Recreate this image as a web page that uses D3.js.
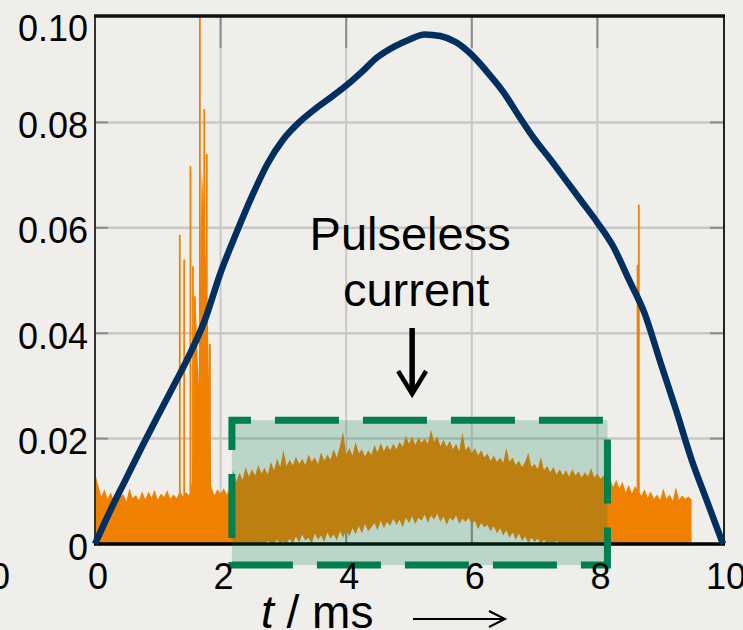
<!DOCTYPE html>
<html>
<head>
<meta charset="utf-8">
<script src="https://cdn.jsdelivr.net/npm/d3@7"></script>
<style>
html, body { margin: 0; padding: 0; background: #efeeeb; overflow: hidden; }
svg { display: block; }
text { font-family: "Liberation Sans", Arial, sans-serif; fill: #000; }
</style>
</head>
<body>
<div id="chart"></div>
<script>
var xTicks = [0, 2, 4, 6, 8, 10];
var xTickLabels = ["0", "2", "4", "6", "8", "10"];
var yTicks = [0, 0.02, 0.04, 0.06, 0.08, 0.10];
var yTickLabels = ["0", "0.02", "0.04", "0.06", "0.08", "0.10"];

// blue trace (t in ms)
var blueT = [0, 0.25, 0.5, 0.75, 1.0, 1.25, 1.5, 1.75, 2.0, 2.25, 2.5, 2.75, 3.0, 3.25, 3.5, 3.75, 4.0, 4.25, 4.5, 4.75,
	5.0, 5.25, 5.5, 5.75, 6.0, 6.25, 6.5, 6.75, 7.0, 7.25, 7.5, 7.75, 8.0, 8.25, 8.5, 8.75, 9.0, 9.25, 9.5, 9.75, 10.0];
var blueV = [0, 0.0065, 0.0125, 0.0185, 0.0243, 0.0300, 0.0358, 0.0425, 0.0515, 0.0590, 0.0660, 0.0722, 0.0768, 0.0800,
	0.0825, 0.0847, 0.0870, 0.0896, 0.0924, 0.0943, 0.0957, 0.0967, 0.0964, 0.0952, 0.0928, 0.0895, 0.0858, 0.0812,
	0.0768, 0.0730, 0.0690, 0.0650, 0.0610, 0.0565, 0.0502, 0.0438, 0.0346, 0.0255, 0.0160, 0.0080, 0];

// orange signal, upper edge every 0.05 ms from 0 ms (units of 0.001)
var noiseStep = 0.05;
var noiseUnit = 0.001;
var noiseTop = [
	13.5, 11.2, 9.0, 10.4, 8.6, 9.8, 8.2, 10.1, 8.9, 9.5,
	8.1, 10.6, 8.7, 9.3, 8.3, 10.0, 8.5, 9.9, 8.8, 10.3,
	8.4, 9.6, 8.9, 10.2, 8.6, 9.4, 8.7, 10.0, 9.0, 9.8,
	9.2, 12.0, 47.0, 30.0, 71.0, 60.0, 40.0, 11.0, 9.2, 10.4,
	9.6, 10.6, 9.4, 10.8, 14.0, 11.8, 13.5, 12.2, 14.6, 12.8,
	14.2, 13.0, 15.0, 13.4, 14.4, 13.2, 15.6, 14.0, 16.2, 14.6,
	17.8, 14.8, 16.0, 14.9, 16.6, 15.2, 16.2, 15.0, 17.0, 15.6,
	16.4, 15.2, 17.4, 15.8, 17.0, 16.0, 18.0, 16.4, 18.6, 21.3,
	17.0, 18.2, 16.8, 19.4, 17.2, 18.0, 16.6, 17.8, 16.9, 18.8,
	17.4, 19.2, 17.6, 18.8, 17.8, 19.0, 18.0, 19.4, 18.4, 20.6,
	19.0, 20.4, 18.8, 20.2, 19.2, 20.0, 19.0, 21.7, 19.4, 20.4,
	18.6, 19.8, 18.4, 19.6, 18.0, 19.0, 17.6, 21.2, 17.8, 18.6,
	17.2, 18.2, 16.8, 17.8, 16.4, 17.2, 15.8, 16.8, 15.6, 16.4,
	15.4, 18.2, 15.6, 16.4, 15.0, 15.8, 14.6, 15.6, 17.3, 14.6,
	15.2, 14.2, 16.5, 14.0, 14.8, 13.6, 14.6, 13.2, 14.2, 13.0,
	14.0, 12.8, 14.2, 13.0, 13.8, 12.6, 13.6, 12.8, 14.4, 12.6,
	13.4, 12.4, 13.0, 11.2, 12.6, 10.8, 12.2, 10.6, 11.8, 9.8,
	11.2, 9.6, 11.0, 10.0, 9.2, 10.4, 8.8, 10.0, 8.6, 9.4,
	8.4, 10.6, 8.6, 9.4, 8.2, 10.8, 8.4, 9.2, 8.6, 9.0,
	8.4
];
// lower edge of the orange inside the pulseless window, from 2.20 ms
var noiseLowStart = 2.20;
var noiseLow = [
	0, 0, 0, 0, 0, 0, 0, 0, 0.4, 0, 0, 0.6, 0, 0, 0.8, 0, 0.5,
	0, 1.0, 0, 1.4, 0.3, 1.8, 0.6, 1.2, 0, 2.0, 0.8, 1.6, 0.4, 2.2, 1.0, 1.8, 0.6, 2.4, 1.2,
	2.6, 1.4, 3.0, 1.8, 3.4, 2.0, 3.8, 2.4, 3.2, 4.0, 2.6, 4.4, 3.0, 4.2, 3.4, 4.8, 3.6, 4.6, 3.2, 5.0,
	4.0, 5.2, 3.8, 5.0, 4.4, 5.6, 4.0, 5.4, 4.6, 5.8, 4.2, 5.2, 3.6, 5.0, 4.4, 5.4, 3.8, 4.8, 4.2, 5.0,
	3.6, 4.4, 2.8, 4.0, 3.2, 3.6, 2.4, 3.4, 2.0, 3.0, 1.6, 2.6, 1.2, 2.2, 0.8, 2.0, 0.6, 1.4, 0.2, 1.2,
	0.4, 1.0, 0, 0.8, 0, 0.4, 0, 0.6, 0, 0, 0.3, 0, 0, 0, 0, 0, 0, 0, 0, 0,
	0, 0, 0
];
// narrow spikes
var spikeT = [1.35, 1.42, 1.52, 1.56, 1.59, 1.67, 1.74, 1.78, 1.83, 8.64, 8.66];
var spikeV = [0.0587, 0.054, 0.0717, 0.0527, 0.047, 0.100, 0.0825, 0.074, 0.038, 0.053, 0.0644];

// pulseless window
var boxT = [2.18, 8.16];
var boxV = [-0.004, 0.0235];

var W = 743, H = 630;
var bg = "#efeeeb", orange = "#f08000", navy = "#00305f", green = "#007f4f";

var svg = d3.select("#chart").append("svg").attr("width", W).attr("height", H);
svg.append("rect").attr("width", W).attr("height", H).attr("fill", bg);

var x = d3.scaleLinear().domain([0, 10]).range([95, 723]);
var y = d3.scaleLinear().domain([0, 0.1]).range([544, 17]);

// grid
var grid = svg.append("g");
grid.selectAll(".vg").data(xTicks.slice(1, -1)).enter().append("line")
	.attr("x1", function(d) { return x(d); }).attr("x2", function(d) { return x(d); })
	.attr("y1", y(0)).attr("y2", y(0.1))
	.attr("stroke", "#c8c8c8").attr("stroke-width", 2);
grid.selectAll(".hg").data(yTicks.slice(1, -1)).enter().append("line")
	.attr("y1", function(d) { return y(d); }).attr("y2", function(d) { return y(d); })
	.attr("x1", x(0)).attr("x2", x(10))
	.attr("stroke", "#c8c8c8").attr("stroke-width", 2.5);

// tick marks
var tk = svg.append("g").attr("stroke", "#8c8c8c").attr("stroke-width", 2);
xTicks.slice(1, -1).forEach(function(d) {
	tk.append("line").attr("x1", x(d)).attr("x2", x(d)).attr("y1", y(0.1)).attr("y2", y(0.1) + 31);
	tk.append("line").attr("x1", x(d)).attr("x2", x(d)).attr("y1", y(0)).attr("y2", y(0) - 31);
});
yTicks.slice(1, -1).forEach(function(d) {
	tk.append("line").attr("y1", y(d)).attr("y2", y(d)).attr("x1", x(0)).attr("x2", x(0) + 13);
	tk.append("line").attr("y1", y(d)).attr("y2", y(d)).attr("x1", x(10) - 13).attr("x2", x(10));
});

// orange signal
var noise = noiseTop.map(function(v, i) {
	var t = i * noiseStep;
	var j = Math.round((t - noiseLowStart) / noiseStep);
	var lo = (j >= 0 && j < noiseLow.length) ? noiseLow[j] : 0;
	return { t: t, hi: v * noiseUnit, lo: lo * noiseUnit };
});
var area = d3.area()
	.x(function(d) { return x(d.t); })
	.y0(function(d) { return y(d.lo); })
	.y1(function(d) { return y(d.hi); });
svg.append("path").datum(noise).attr("d", area).attr("fill", orange);

svg.selectAll(".spike").data(spikeT).enter().append("line")
	.attr("x1", function(d) { return x(d); }).attr("x2", function(d) { return x(d); })
	.attr("y1", y(0)).attr("y2", function(d, i) { return y(spikeV[i]); })
	.attr("stroke", orange).attr("stroke-width", 1.8);

// frame
var fr = svg.append("g");
fr.append("line").attr("x1", x(0)).attr("x2", x(0)).attr("y1", y(0.1)).attr("y2", y(0)).attr("stroke", "#333").attr("stroke-width", 2);
fr.append("line").attr("x1", x(10) + 1).attr("x2", x(10) + 1).attr("y1", y(0.1)).attr("y2", y(0)).attr("stroke", "#222").attr("stroke-width", 2);
fr.append("line").attr("x1", x(0) - 1).attr("x2", x(10) + 2).attr("y1", y(0.1) - 1).attr("y2", y(0.1) - 1).attr("stroke", "#111").attr("stroke-width", 3.5);
fr.append("line").attr("x1", x(0) - 1).attr("x2", x(10) + 2).attr("y1", y(0)).attr("y2", y(0)).attr("stroke", "#000").attr("stroke-width", 3.5);

// pulseless window fill
var bx = x(boxT[0]), bw = x(boxT[1]) - x(boxT[0]);
var by = y(boxV[1]), bh = y(boxV[0]) - y(boxV[1]);
svg.append("rect").attr("x", bx).attr("y", by).attr("width", bw).attr("height", bh)
	.attr("fill", "#007a4d").attr("fill-opacity", 0.21);

// blue trace
var line = d3.line()
	.x(function(d, i) { return x(blueT[i]); })
	.y(function(d) { return y(d); })
	.curve(d3.curveMonotoneX);
svg.append("path").datum(blueV).attr("d", line)
	.attr("fill", "none").attr("stroke", navy).attr("stroke-width", 6.5)
	.attr("stroke-linejoin", "round");

// dashed window border
svg.append("rect").attr("x", bx).attr("y", by).attr("width", bw).attr("height", bh)
	.attr("fill", "none").attr("stroke", green).attr("stroke-width", 7)
	.attr("stroke-dasharray", "64,24").attr("stroke-dashoffset", 45);

// tick labels
svg.selectAll(".yl").data(yTicks).enter().append("text")
	.attr("x", 88).attr("y", function(d) { return Math.max(y(d) + 3, 28); })
	.attr("dy", "0.35em").attr("text-anchor", "end").attr("font-size", 36)
	.text(function(d, i) { return yTickLabels[i]; });
svg.selectAll(".xl").data(xTicks).enter().append("text")
	.attr("x", function(d) { return x(d) + 3; }).attr("y", 589)
	.attr("text-anchor", "middle").attr("font-size", 36)
	.text(function(d, i) { return xTickLabels[i]; });
svg.append("text").attr("x", 10).attr("y", 589).attr("text-anchor", "end").attr("font-size", 36).text("0");

// axis title
var xt = svg.append("text").attr("x", 261).attr("y", 628).attr("font-size", 46);
xt.append("tspan").attr("font-style", "italic").text("t");
xt.append("tspan").text(" / ms");
svg.append("line").attr("x1", 413).attr("x2", 505).attr("y1", 619).attr("y2", 619).attr("stroke", "#000").attr("stroke-width", 2);
svg.append("path").attr("d", "M489,611 L505,619 L489,627").attr("fill", "none").attr("stroke", "#000").attr("stroke-width", 2);

// annotation
var ax = x(5.05);
svg.append("text").attr("x", ax - 2).attr("y", 250).attr("text-anchor", "middle").attr("font-size", 47).text("Pulseless");
svg.append("text").attr("x", ax + 4).attr("y", 306).attr("text-anchor", "middle").attr("font-size", 47).text("current");
svg.append("line").attr("x1", ax).attr("x2", ax).attr("y1", 328).attr("y2", 392).attr("stroke", "#000").attr("stroke-width", 5.5);
svg.append("path").attr("d", "M" + (ax - 14) + ",371 L" + ax + ",394 L" + (ax + 14) + ",371")
	.attr("fill", "none").attr("stroke", "#000").attr("stroke-width", 4.5);
</script>
</body>
</html>
